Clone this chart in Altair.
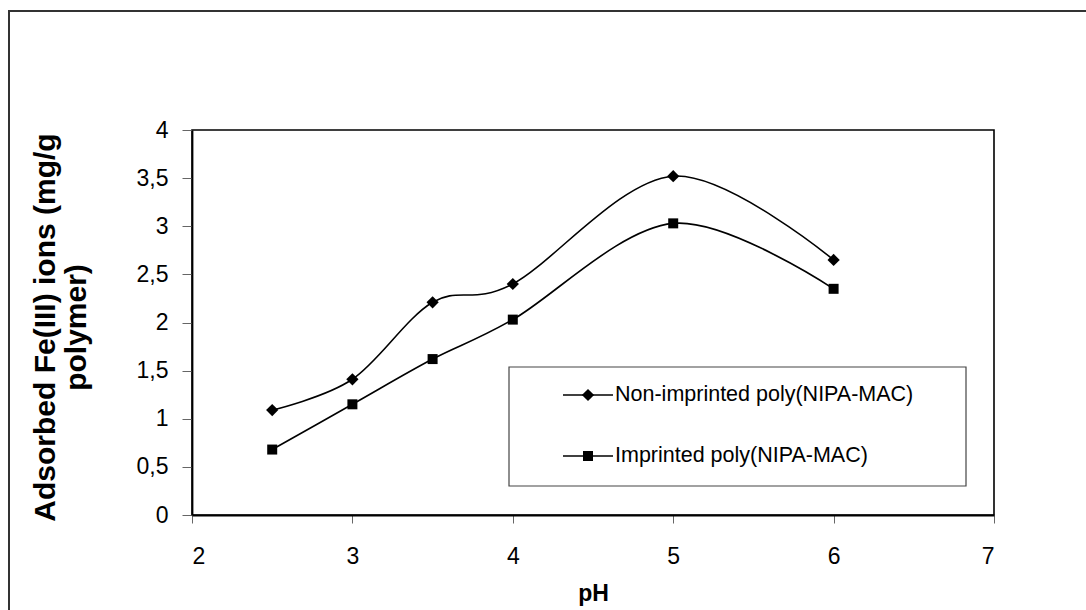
import altair as alt
import pandas as pd

# pH values and adsorbed Fe(III) (mg/g polymer) for each polymer
ph = [2.5, 3, 3.5, 4, 5, 6]
non_imprinted = [1.09, 1.41, 2.21, 2.40, 3.52, 2.65]
imprinted = [0.68, 1.15, 1.62, 2.03, 3.03, 2.35]
series_names = ["Non-imprinted poly(NIPA-MAC)", "Imprinted poly(NIPA-MAC)"]
series_shapes = ["diamond", "square"]
series_sizes = [150, 100]

rows = []
for name, vals in zip(series_names, [non_imprinted, imprinted]):
    for x, v in zip(ph, vals):
        rows.append({"pH": x, "value": v, "series": name})
df = pd.DataFrame(rows)

FONT = "Liberation Sans"
W, H = 802, 385
PAD = {"left": 192, "top": 130, "right": 92, "bottom": 95}

x_enc = alt.X("pH:Q", scale=alt.Scale(domain=[2, 7], nice=False),
              axis=alt.Axis(values=[2, 3, 4, 5, 6, 7], format="d", title="pH", tickSize=8,
                            labelPadding=22, titleY=78, titleBaseline="middle",
                            titleFontWeight="bold", titleFontSize=23))
y_enc = alt.Y("value:Q", scale=alt.Scale(domain=[0, 4], nice=False),
              axis=alt.Axis(values=[0, 0.5, 1, 1.5, 2, 2.5, 3, 3.5, 4], format="~g",
                            labelExpr="replace(datum.label, '.', ',')",
                            title=["Adsorbed Fe(III) ions (mg/g", "polymer)"],
                            tickSize=10, labelPadding=14,
                            titleX=-162, titleY=197, titleBaseline="top",
                            titleAlign="center", titleLineHeight=31,
                            titleFontWeight="bold", titleFontSize=30))

base = alt.Chart(df)

lines = base.mark_line(interpolate="cardinal", tension=0, color="black",
                       strokeWidth=1.6).encode(x=x_enc, y=y_enc, detail="series:N")

points = base.mark_point(filled=True, color="black", opacity=1).encode(
    x="pH:Q", y="value:Q",
    shape=alt.Shape("series:N", scale=alt.Scale(domain=series_names, range=series_shapes), legend=None),
    size=alt.Size("series:N", scale=alt.Scale(domain=series_names, range=series_sizes), legend=None),
)

one = alt.Data(values=[{"k": 1}])

# outer chart frame as two thin filled bars (top and left edges)
frame_top = alt.Chart(one).mark_rect(fill="#333", strokeWidth=0).encode(
    x=alt.value(-184), x2=alt.value(W + PAD["right"] + 20), y=alt.value(-120), y2=alt.value(-118))
frame_left = alt.Chart(one).mark_rect(fill="#333", strokeWidth=0).encode(
    x=alt.value(-184), x2=alt.value(-182), y=alt.value(-120), y2=alt.value(H + PAD["bottom"] + 20))

# legend box and entries
legend_box = alt.Chart(one).mark_rect(filled=False, stroke="#444", strokeWidth=1.2).encode(
    x=alt.value(317), x2=alt.value(774), y=alt.value(237), y2=alt.value(356))

legend_layers = [legend_box]
for i, (name, shp, sz) in enumerate(zip(series_names, series_shapes, series_sizes)):
    yy = 265 + 61 * i
    d = alt.Data(values=[{"series": name}])
    legend_layers.append(alt.Chart(d).mark_rule(color="black", strokeWidth=1.6).encode(
        x=alt.value(371), x2=alt.value(421), y=alt.value(yy)))
    legend_layers.append(alt.Chart(d).mark_point(filled=True, color="black", opacity=1,
                                                  shape=shp, size=sz).encode(
        x=alt.value(396), y=alt.value(yy)))
    legend_layers.append(alt.Chart(d).mark_text(align="left", baseline="middle", font=FONT,
                                                 fontSize=21.5, color="black").encode(
        x=alt.value(423), y=alt.value(yy), text="series:N"))

chart = alt.layer(frame_top, frame_left, lines, points, *legend_layers).properties(
    width=W, height=H,
    background="white",
    autosize=alt.AutoSizeParams(type="none"),
    padding=PAD,
).configure_view(stroke="black", strokeWidth=1.6).configure_axis(
    grid=False, domainColor="black", domainWidth=1.8, tickColor="#666", tickWidth=1,
    labelFont=FONT, titleFont=FONT, labelFontSize=23, labelColor="black",
    titleColor="black",
)

chart.save("out.html", embed_options={"renderer": "svg", "actions": False})
